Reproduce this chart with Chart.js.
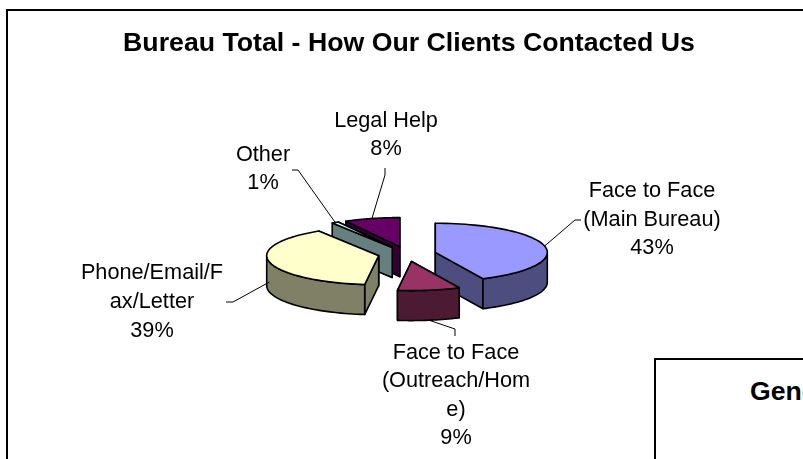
<!DOCTYPE html>
<html>
<head>
<meta charset="utf-8">
<title>Bureau Total</title>
<script src="https://cdn.jsdelivr.net/npm/chart.js@4"></script>
<style>
  html, body { margin: 0; padding: 0; background: #fff; overflow: hidden; width: 803px; height: 459px; }
  #frame { position: absolute; left: 6px; top: 9px; width: 802px; height: 470px; border: 2px solid #000; background: #fff; }
  #chart { display: block; }
  #second { position: absolute; left: 654px; top: 358px; width: 300px; height: 200px; border: 2px solid #000; background: #fff; overflow: hidden; }
  #second span { position: absolute; left: 94px; top: 16px; font: bold 26.6px "Liberation Sans", Arial, sans-serif; white-space: nowrap; }
</style>
</head>
<body>
<div id="frame"><canvas id="chart" width="802" height="470"></canvas></div>
<div id="second"><span>Gender</span></div>
<script>
  const CATEGORIES = ["Face to Face (Main Bureau)", "Face to Face (Outreach/Home)", "Phone/Email/Fax/Letter", "Other", "Legal Help"];
  const VALUES = [43, 9, 39, 1, 8];
  const LABEL_LINES = [
    ["Face to Face", "(Main Bureau)"],
    ["Face to Face", "(Outreach/Hom", "e)"],
    ["Phone/Email/F", "ax/Letter"],
    ["Other"],
    ["Legal Help"]
  ];
  const TOP_COLORS = ["#9999FF", "#993366", "#FFFFCC", "#CCFFFF", "#660066"];
  const WALL_COLORS = ["#4D4D80", "#4D1A33", "#808066", "#668080", "#330033"];

  // Look of the tilted pie
  const FONT = '"Liberation Sans", Arial, sans-serif';
  const TILT = 0.26;
  const DEPTH = 30;
  const EXPLODE = 29;
  const RADIUS = 112;
  const SHIFT_X = -2;

  // Where each label sits (canvas px): centre x, first line y, and leader bend points
  const LABEL_POS = [
    { x: 644, y: 180, lh: 28.7, drop: 0, leader: [[567, 209], [573, 209]] },
    { x: 448, y: 342, lh: 28.5, drop: DEPTH, leader: [[447, 318], [447, 325]] },
    { x: 144, y: 262, lh: 29, drop: 20, leader: [[225, 291], [218, 291]] },
    { x: 255, y: 144, lh: 28, drop: 0, leader: [[290, 159], [284, 159]] },
    { x: 378, y: 110, lh: 28.5, drop: 0, leader: [[377, 164], [377, 157]] }
  ];

  function projector(arc, cy) {
    return (angle, r, drop = 0) => ({
      x: arc.x + Math.cos(angle) * r,
      y: cy + (arc.y - cy + Math.sin(angle) * r) * TILT + drop
    });
  }

  function fillStroke(ctx, pts, color) {
    ctx.beginPath();
    pts.forEach((p, i) => i ? ctx.lineTo(p.x, p.y) : ctx.moveTo(p.x, p.y));
    ctx.closePath();
    ctx.fillStyle = color;
    ctx.fill();
    ctx.stroke();
  }

  const tiltedPie = {
    id: "tiltedPie",
    afterDatasetsUpdate(chart) {
      // pull the slices apart along their bisector
      chart.getDatasetMeta(0).data.forEach(arc => {
        const mid = (arc.startAngle + arc.endAngle) / 2;
        arc.x += Math.cos(mid) * EXPLODE + SHIFT_X;
        arc.y += Math.sin(mid) * EXPLODE;
      });
    },
    beforeDatasetsDraw(chart) {
      const ctx = chart.ctx;
      const { top, bottom } = chart.chartArea;
      const cy = (top + bottom) / 2;
      const arcs = chart.getDatasetMeta(0).data.map((arc, i) => ({ arc, i }));
      ctx.save();
      ctx.strokeStyle = "#000";
      ctx.lineWidth = 1.6;
      ctx.lineJoin = "round";
      // walls, back to front
      [...arcs].sort((a, b) => a.arc.y - b.arc.y).forEach(({ arc, i }) => {
        const p = projector(arc, cy);
        const color = WALL_COLORS[i];
        const apex = p(0, 0);
        const edges = [arc.startAngle, arc.endAngle]
          .map(a => p(a, RADIUS))
          .sort((e1, e2) => e1.y - e2.y);
        edges.forEach(e => {
          fillStroke(ctx, [apex, e, { x: e.x, y: e.y + DEPTH }, { x: apex.x, y: apex.y + DEPTH }], color);
        });
        const from = Math.max(arc.startAngle, 0);
        const to = Math.min(arc.endAngle, Math.PI);
        if (to > from) {
          const rim = [];
          for (let k = 0; k <= 40; k++) rim.push(p(from + (to - from) * k / 40, RADIUS));
          const low = rim.map(q => ({ x: q.x, y: q.y + DEPTH })).reverse();
          fillStroke(ctx, rim.concat(low), color);
        }
      });
      ctx.restore();
      // slice tops are drawn by the library, squashed
      ctx.save();
      ctx.translate(0, cy);
      ctx.scale(1, TILT);
      ctx.translate(0, -cy);
    },
    afterDatasetsDraw(chart) {
      const ctx = chart.ctx;
      ctx.restore();
      const { top, bottom } = chart.chartArea;
      const cy = (top + bottom) / 2;
      ctx.save();
      ctx.strokeStyle = "#000";
      ctx.lineWidth = 1.6;
      ctx.lineJoin = "round";
      chart.getDatasetMeta(0).data.forEach(arc => {
        const p = projector(arc, cy);
        const apex = p(0, 0);
        ctx.beginPath();
        ctx.moveTo(apex.x, apex.y);
        for (let k = 0; k <= 60; k++) {
          const q = p(arc.startAngle + (arc.endAngle - arc.startAngle) * k / 60, RADIUS);
          ctx.lineTo(q.x, q.y);
        }
        ctx.closePath();
        ctx.stroke();
      });
      ctx.restore();
    },
    afterDraw(chart) {
      const ctx = chart.ctx;
      const { top, bottom } = chart.chartArea;
      const cy = (top + bottom) / 2;
      ctx.save();
      ctx.strokeStyle = "#000";
      ctx.lineWidth = 1;
      ctx.fillStyle = "#000";
      ctx.font = "21.7px " + FONT;
      ctx.textAlign = "center";
      ctx.textBaseline = "middle";
      chart.getDatasetMeta(0).data.forEach((arc, i) => {
        const pos = LABEL_POS[i];
        const mid = (arc.startAngle + arc.endAngle) / 2;
        const start = projector(arc, cy)(mid, RADIUS, pos.drop);
        ctx.beginPath();
        ctx.moveTo(start.x, start.y);
        pos.leader.forEach(pt => ctx.lineTo(pt[0], pt[1]));
        ctx.stroke();
        const lines = LABEL_LINES[i].concat(VALUES[i] + "%");
        lines.forEach((line, n) => ctx.fillText(line, pos.x, pos.y + n * pos.lh));
      });
      ctx.restore();
    }
  };

  new Chart(document.getElementById("chart"), {
    type: "pie",
    plugins: [tiltedPie],
    data: {
      labels: CATEGORIES,
      datasets: [{
        data: VALUES,
        backgroundColor: TOP_COLORS,
        borderWidth: 0,
        hoverOffset: 0
      }]
    },
    options: {
      responsive: false,
      animation: false,
      radius: RADIUS,
      layout: { padding: { bottom: 104 } },
      plugins: {
        legend: { display: false },
        tooltip: { enabled: false },
        title: {
          display: true,
          text: "Bureau Total - How Our Clients Contacted Us",
          color: "#000",
          font: { family: FONT, size: 26.7, weight: "bold" },
          padding: { top: 17, bottom: 71 }
        }
      }
    }
  });
</script>
</body>
</html>
